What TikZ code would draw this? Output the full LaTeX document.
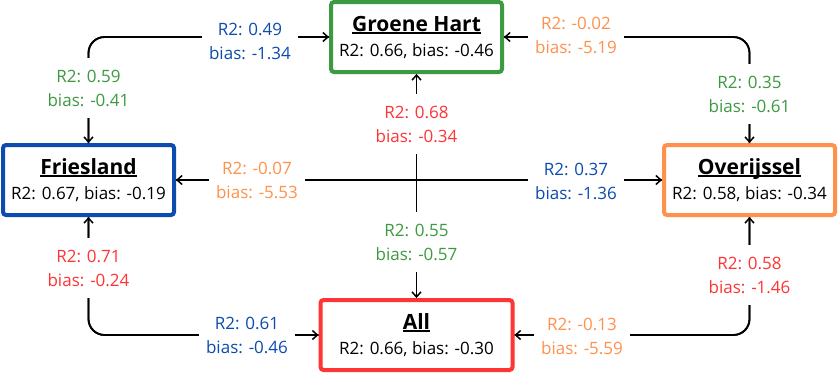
\documentclass[tikz,border=0pt]{standalone}
\usepackage{fontspec}
\setmainfont{Open Sans}
\usepackage{xcolor}
\usetikzlibrary{arrows.meta}
\definecolor{frblue}{RGB}{12, 76, 176}
\definecolor{ghgreen}{RGB}{60, 154, 64}
\definecolor{ovorange}{RGB}{255, 145, 77}
\definecolor{allred}{RGB}{255, 52, 52}
\newcommand{\regtitle}[1]{{\fontsize{21}{25}\selectfont\bfseries
  \setbox0\hbox{#1}\rlap{\rule[-2.5pt]{\wd0}{1.6pt}}\box0}}

\begin{document}
\begin{tikzpicture}[x=1pt, y=-1pt,
  region/.style={draw=#1, line width=4pt, rounded corners=3pt, fill=white,
    minimum width=171pt, minimum height=70pt, inner sep=0pt, align=center,
    font=\fontsize{17}{25}\selectfont},
  conn/.style={line width=1.8pt, rounded corners=16pt,
    -{Straight Barb[length=5pt, width=9pt, line width=1.5pt]}},
  lbl/.style={text=#1, fill=white, align=center, inner xsep=7.5pt,
    inner ysep=12pt, font=\fontsize{17}{24}\selectfont}]

  \useasboundingbox (0, 0) rectangle (838, 373);

  % ── Regions ───────────────────────────────────────────────────────────────
  \node[region=ghgreen] (gh) at (416.5, 37)
    {\regtitle{Groene Hart}\\R2: 0.66, bias: -0.46};
  \node[region=frblue] (fr) at (88.5, 180)
    {\regtitle{Friesland}\\R2: 0.67, bias: -0.19};
  \node[region=ovorange] (ov) at (749.5, 180)
    {\regtitle{Overijssel}\\R2: 0.58, bias: -0.34};
  \node[region=allred, minimum width=192pt] (all) at (416.5, 335)
    {\regtitle{All}\\R2: 0.66, bias: -0.30};

  % ── Connectors (one per direction) ────────────────────────────────────────
  \draw[conn] (fr.north) |- (gh.west);
  \draw[conn] (gh.west) -| (fr.north);
  \draw[conn] (ov.north) |- (gh.east);
  \draw[conn] (gh.east) -| (ov.north);
  \draw[conn] (fr.south) |- (all.west);
  \draw[conn] (all.west) -| (fr.south);
  \draw[conn] (ov.south) |- (all.east);
  \draw[conn] (all.east) -| (ov.south);
  \draw[conn] (fr.east) -- (ov.west);
  \draw[conn] (ov.west) -- (fr.east);
  \draw[conn] (all.north) -- (gh.south);
  \draw[conn] (gh.south) -- (all.north);

  % ── Scores, coloured by source region ─────────────────────────────────────
  \node[lbl=frblue] (frgh) at (250, 41) {R2: 0.49\\bias: -1.34};
  \node[lbl=ghgreen] (ghfr) at (88.5, 88) {R2: 0.59\\bias: -0.41};
  \node[lbl=ovorange] (ovgh) at (576, 35) {R2: -0.02\\bias: -5.19};
  \node[lbl=ghgreen] (ghov) at (749.5, 94) {R2: 0.35\\bias: -0.61};
  \node[lbl=allred] (allgh) at (416.5, 124) {R2: 0.68\\bias: -0.34};
  \node[lbl=ghgreen] (ghall) at (416.5, 242) {R2: 0.55\\bias: -0.57};
  \node[lbl=ovorange] (ovfr) at (257, 180) {R2: -0.07\\bias: -5.53};
  \node[lbl=frblue] (frov) at (576, 181) {R2: 0.37\\bias: -1.36};
  \node[lbl=allred] (allfr) at (88.5, 268) {R2: 0.71\\bias: -0.24};
  \node[lbl=frblue] (frall) at (247, 335) {R2: 0.61\\bias: -0.46};
  \node[lbl=allred] (allov) at (749.5, 275) {R2: 0.58\\bias: -1.46};
  \node[lbl=ovorange] (ovall) at (582, 336) {R2: -0.13\\bias: -5.59};

\end{tikzpicture}
\end{document}
